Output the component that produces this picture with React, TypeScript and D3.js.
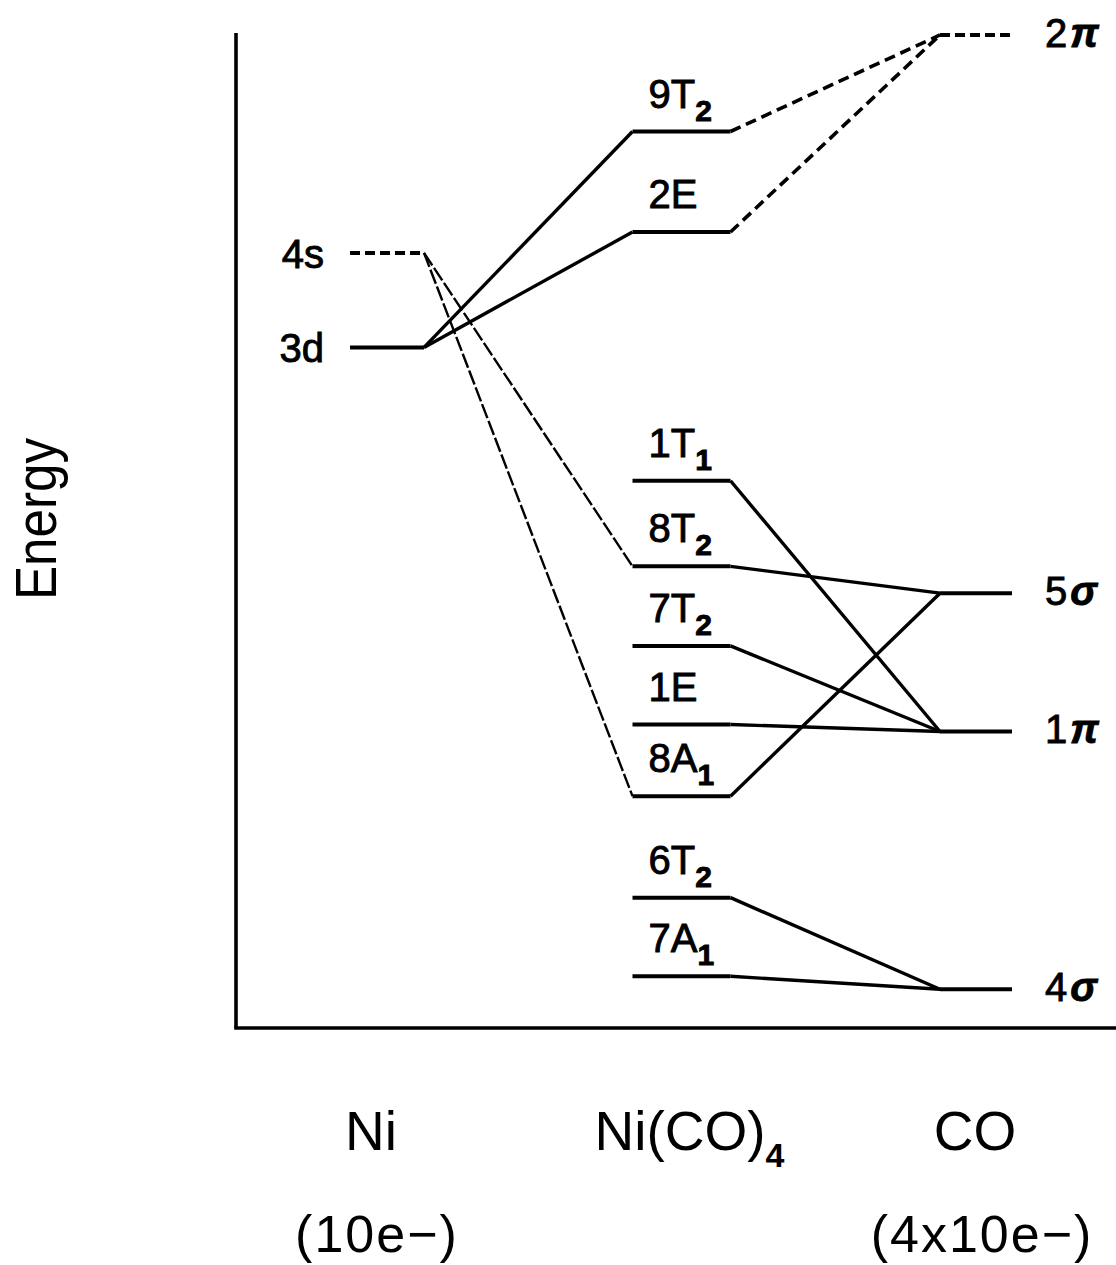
import React from "react";
import * as d3 from "d3";

// columns of the correlation diagram
const columns = ["Ni", "Ni(CO)4", "CO"];
const columnTitles = [
  { text: "Ni", sub: "" },
  { text: "Ni(CO)", sub: "4" },
  { text: "CO", sub: "" },
];
const electronCounts = ["(10e\u2212)", "", "(4x10e\u2212)"];

// orbital energies, arbitrary units (0 = bottom axis)
const niLevels = [
  { id: "4s", name: "4s", sub: "", energy: 77.9, dashed: true },
  { id: "3d", name: "3d", sub: "", energy: 68.4, dashed: false },
];

const complexLevels = [
  { id: "9T2", name: "9T", sub: "2", energy: 90.1 },
  { id: "2E", name: "2E", sub: "", energy: 80.0 },
  { id: "1T1", name: "1T", sub: "1", energy: 55.0 },
  { id: "8T2", name: "8T", sub: "2", energy: 46.4 },
  { id: "7T2", name: "7T", sub: "2", energy: 38.4 },
  { id: "1E", name: "1E", sub: "", energy: 30.5 },
  { id: "8A1", name: "8A", sub: "1", energy: 23.3 },
  { id: "6T2", name: "6T", sub: "2", energy: 13.1 },
  { id: "7A1", name: "7A", sub: "1", energy: 5.2 },
];

const coLevels = [
  { id: "2pi", name: "2", greek: "\u03c0", energy: 99.8, dashed: true },
  { id: "5sigma", name: "5", greek: "\u03c3", energy: 43.7, dashed: false },
  { id: "1pi", name: "1", greek: "\u03c0", energy: 29.8, dashed: false },
  { id: "4sigma", name: "4", greek: "\u03c3", energy: 3.9, dashed: false },
];

// correlation lines: [from, to, style]
const niLinks = [
  ["4s", "8T2", "fine"],
  ["4s", "8A1", "fine"],
  ["3d", "9T2", "solid"],
  ["3d", "2E", "solid"],
];

const coLinks = [
  ["9T2", "2pi", "dash"],
  ["2E", "2pi", "dash"],
  ["1T1", "1pi", "solid"],
  ["8T2", "5sigma", "solid"],
  ["7T2", "1pi", "solid"],
  ["1E", "1pi", "solid"],
  ["8A1", "5sigma", "solid"],
  ["6T2", "4sigma", "solid"],
  ["7A1", "4sigma", "solid"],
];

export default function App() {
  const width = 1116;
  const height = 1265;
  const axisX = 236;
  const axisTop = 33;
  const axisBottom = 1028;
  const font = "'Liberation Sans', Arial, sans-serif";

  const y = d3.scaleLinear().domain([0, 100]).range([axisBottom, axisTop]);
  const x = d3.scalePoint().domain(columns).range([387, 976]);
  const halfWidth = { "Ni": 37, "Ni(CO)4": 49, "CO": 36 };

  const left = (col) => x(col) - halfWidth[col];
  const right = (col) => x(col) + halfWidth[col];

  const byId = {};
  niLevels.forEach((d) => (byId[d.id] = { ...d, col: "Ni" }));
  complexLevels.forEach((d) => (byId[d.id] = { ...d, col: "Ni(CO)4" }));
  coLevels.forEach((d) => (byId[d.id] = { ...d, col: "CO" }));

  const linkStyle = (s) => {
    if (s === "dash") return { strokeWidth: 3.6, strokeDasharray: "11,6" };
    if (s === "fine") return { strokeWidth: 2.4, strokeDasharray: "15,3" };
    return { strokeWidth: 3.4, strokeDasharray: null };
  };

  const line = d3.line();

  const links = [...niLinks, ...coLinks].map(([a, b, s]) => {
    const p = byId[a];
    const q = byId[b];
    return {
      key: a + "-" + b,
      d: line([
        [right(p.col), y(p.energy)],
        [left(q.col), y(q.energy)],
      ]),
      style: linkStyle(s),
    };
  });

  const levelLabel = (d, xPos, yPos, anchor) => (
    <text
      key={"lbl-" + d.id}
      x={xPos}
      y={yPos}
      textAnchor={anchor}
      fontFamily={font}
      fontSize={40}
      stroke="#000"
      strokeWidth={0.9}
    >
      {d.name}
      {d.sub && (
        <tspan fontSize={30} fontWeight="bold" dy={13}>
          {d.sub}
        </tspan>
      )}
      {d.greek && (
        <tspan fontWeight="bold" fontStyle="italic" dx={3}>
          {d.greek}
        </tspan>
      )}
    </text>
  );

  return (
    <svg
      width={width}
      height={height}
      style={{ position: "absolute", left: 0, top: 0, background: "#fff" }}
    >
      {/* axes */}
      <g stroke="#000" strokeWidth={3.6} fill="none">
        <line x1={axisX} x2={axisX} y1={axisTop} y2={axisBottom} />
        <line x1={axisX - 1.8} x2={width} y1={axisBottom} y2={axisBottom} />
      </g>

      <text
        transform={`translate(56, 519) rotate(-90)`}
        textAnchor="middle"
        fontFamily={font}
        fontSize={58}
        textLength={162}
        lengthAdjust="spacingAndGlyphs"
      >
        Energy
      </text>

      {/* correlation lines */}
      <g stroke="#000" fill="none" strokeLinejoin="round">
        {links.map((l) => (
          <path
            key={l.key}
            d={l.d}
            strokeWidth={l.style.strokeWidth}
            strokeDasharray={l.style.strokeDasharray || undefined}
          />
        ))}
      </g>

      {/* levels */}
      <g stroke="#000" strokeWidth={4}>
        {Object.values(byId).map((d) => (
          <line
            key={d.id}
            x1={left(d.col)}
            x2={right(d.col)}
            y1={y(d.energy)}
            y2={y(d.energy)}
            strokeDasharray={d.dashed ? "10,5" : undefined}
          />
        ))}
      </g>

      {/* level labels */}
      {niLevels.map((d) =>
        levelLabel(d, left("Ni") - 26, y(d.energy) + 15, "end")
      )}
      {complexLevels.map((d) =>
        levelLabel(d, left("Ni(CO)4") + 16, y(d.energy) - 24, "start")
      )}
      {coLevels.map((d) =>
        levelLabel(d, right("CO") + 33, y(d.energy) + 12, "start")
      )}

      {/* column titles */}
      {columns.map((c, i) => (
        <g key={c}>
          <text
            x={x(c) + (i === 0 ? -16 : i === 1 ? 8 : -1)}
            y={1150}
            textAnchor="middle"
            fontFamily={font}
            fontSize={55}
          >
            {columnTitles[i].text}
            {columnTitles[i].sub && (
              <tspan fontSize={34} fontWeight="bold" dy={17}>
                {columnTitles[i].sub}
              </tspan>
            )}
          </text>
          {electronCounts[i] && (
            <text
              x={x(c) + (i === 0 ? -10 : 6)}
              y={1252}
              textAnchor="middle"
              fontFamily={font}
              fontSize={52}
              letterSpacing={2}
            >
              {electronCounts[i]}
            </text>
          )}
        </g>
      ))}
    </svg>
  );
}
